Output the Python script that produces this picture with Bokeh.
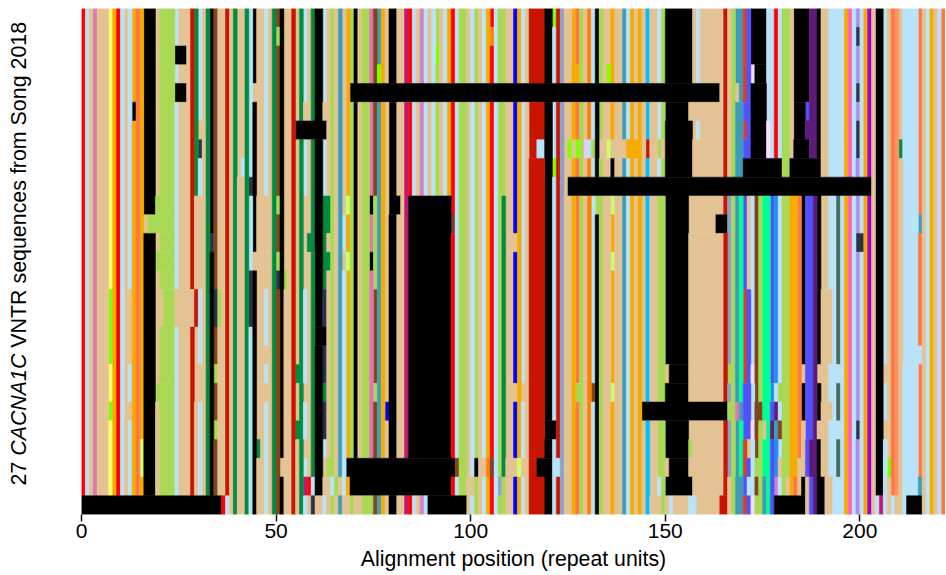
from bokeh.plotting import figure
from bokeh.layouts import row
from bokeh.models import ColumnDataSource, FixedTicker, Label
from bokeh.embed import file_html
from bokeh.resources import INLINE
import math

FONT = "Liberation Sans"
N_ROWS = 27
TICKS = [0, 50, 100, 150, 200]
X_LABEL = "Alignment position (repeat units)"
Y_LABEL = ["27 ", "CACNA1C", "VNTR sequences from Song 2018"]

PALETTE = {
    "r": "#FF0000", "l": "#B9E3F9", "t": "#E3C393", "p": "#DF78AE", "y": "#FFFF66",
    "O": "#F5AB00", "o": "#FF7840", "K": "#000000", "g": "#A9D954", "D": "#C81400",
    "E": "#008C3F", "B": "#7F461B", "T": "#3F9CB8", "W": "#C5176F", "H": "#D67FC8",
    "A": "#80FF00", "N": "#2A324A", "S": "#8CA0C8", "b": "#0000FF", "d": "#FF8000",
    "s": "#00BFFF", "V": "#D43F30", "U": "#5050FF", "Q": "#5E1A78", "M": "#FF60B0",
    "L": "#B088F8", "X": "#A000D0", "F": "#FF9060", "Z": "#00FF90", "C": "#CCFF66",
    "J": "#2090F0", "G": "#466B60", "I": "#FFDDFF", "e": "#F0E0FF", "h": "#F8C0FF",
    "f": "#7F3A30",
}

BASE = ("rltptttyOr" "ltlOoOKKKt" "ggggltttDE" "ltEKBttDtE" "ttElKttltE" "BKttDtEltE"
        "KKltgtTtOg" "KtggpBTOtK" "KttWrltHlt" "lgtlOrlggt" "lgtlOrlggt" "tbOltDDDDK"
        "KlDSttOogt" "dlKgttOttT" "lOtOtsttlg" "KKKKKKKtlt" "tttttDtgTT" "VUKKKKllrl"
        "ggtKKKKQQK" "ttllllOMlL" "lOXtKKltoF" "tllllotlOtlo")

# (first row, last row, first column, last column, residue code)
EDITS_LEFT = [
    (5,5,13,13,"K"), (2,2,24,26,"K"), (4,4,24,26,"K"),
    (11,11,16,16,"t"), (11,11,17,18,"g"),
    (10,11,19,19,"g"), (13,13,19,19,"g"), (20,20,19,19,"g"),
    (15,16,20,20,"t"), (15,16,24,24,"t"), (15,16,28,28,"t"),
    (10,26,29,29,"t"), (15,16,29,29,"D"),
    (6,6,30,30,"t"), (7,7,30,30,"N"), (10,14,30,30,"t"), (19,20,30,30,"t"),
    (12,12,33,33,"N"),
    (15,16,34,34,"N"), (19,19,34,34,"g"), (22,22,34,34,"g"), (15,16,35,35,"g"),
    (8,8,41,41,"l"), (9,9,43,43,"N"), (14,16,43,43,"N"),
    (4,4,44,44,"t"), (13,13,44,44,"t"), (23,23,45,45,"E"),
    (10,14,47,47,"t"), (18,18,47,47,"t"), (20,20,47,47,"t"),
    (1,1,50,50,"g"), (10,10,50,50,"g"), (13,13,50,50,"g"), (14,14,50,50,"N"),
    (24,24,51,51,"t"), (14,14,52,52,"g"),
    (6,6,55,62,"K"), (19,19,55,55,"E"), (22,22,55,55,"E"),
    (5,5,57,57,"t"), (10,14,57,57,"t"), (20,20,57,57,"t"), (23,23,57,57,"t"),
    (25,25,57,57,"W"), (12,12,58,58,"E"), (25,25,58,58,"r"), (25,25,59,59,"l"),
    (26,26,59,59,"N"), (26,26,60,61,"t"),
    (5,5,62,62,"t"), (10,14,62,62,"E"), (15,16,62,62,"N"), (17,17,60,62,"K"),
    (18,19,62,62,"N"), (20,20,62,62,"E"), (21,22,62,62,"N"),
    (23,23,62,62,"l"), (24,25,62,62,"t"),
    (10,11,63,63,"E"), (13,13,63,63,"E"), (24,24,63,63,"g"),
    (25,25,64,64,"l"), (25,25,65,65,"g"), (25,25,66,66,"t"),
    (11,12,67,67,"l"), (14,25,67,67,"l"),
    (10,10,68,68,"C"), (13,13,68,68,"C"), (26,26,68,68,"t"),
    (26,26,70,70,"t"), (26,26,74,74,"g"),
    (10,10,74,74,"K"), (13,13,74,74,"K"),
    (10,14,75,75,"g"), (20,20,75,75,"g"),
    (3,3,76,76,"A"), (21,21,78,78,"b"), (10,10,81,81,"K"),
    (10,23,84,94,"K"), (2,2,91,91,"A"), (1,1,105,105,"d"),
    (15,18,7,7,"A"), (21,21,7,7,"A"),
    (15,18,12,12,"t"), (21,21,12,12,"t"), (23,24,15,15,"C"),
]
EDITS_MIDDLE = [
    (11,11,95,95,"f"), (10,24,108,108,"E"), (25,25,107,107,"S"),
    (12,12,111,111,"t"), (20,20,111,111,"t"), (24,24,111,111,"t"),
    (20,20,113,113,"t"), (24,24,112,112,"C"), (24,24,113,113,"t"),
    (7,7,117,118,"l"), (0,0,121,121,"A"), (8,8,121,121,"A"), (22,22,121,121,"K"),
    (7,7,125,125,"A"), (7,7,126,126,"t"), (7,7,127,127,"A"), (7,7,129,129,"h"),
    (7,7,130,130,"l"), (7,7,131,131,"g"), (7,7,133,134,"t"), (7,7,135,135,"C"),
    (7,7,136,139,"t"), (7,7,140,143,"O"), (7,7,145,145,"D"), (7,7,148,148,"g"),
    (7,7,149,149,"t"), (3,3,127,127,"O"), (3,3,135,135,"A"), (8,8,136,136,"K"),
    (10,10,132,132,"g"), (10,10,136,136,"C"), (13,13,136,136,"C"), (20,20,136,136,"C"),
    (20,20,127,127,"g"), (20,20,131,131,"B"),
    (10,24,148,148,"g"), (26,26,148,148,"t"),
    (19,19,150,150,"t"), (24,24,150,150,"t"), (26,26,150,150,"t"),
    (26,26,151,151,"l"), (26,26,152,155,"t"), (10,25,156,156,"t"),
    (5,5,156,156,"t"), (5,5,158,158,"t"), (7,26,158,158,"t"),
    (23,23,156,156,"g"), (25,25,156,156,"K"), (26,26,156,157,"l"),
    (21,21,144,165,"K"), (11,11,163,165,"K"), (26,26,164,164,"D"),
]
EDITS_RIGHT = [
    (4,4,168,168,"t"), (5,5,170,171,"U"), (7,7,170,171,"U"),
    (3,3,172,172,"e"), (6,7,176,176,"I"), (5,5,186,186,"U"), (6,6,186,186,"Q"),
    (7,7,186,186,"K"), (1,1,199,199,"N"), (4,4,199,199,"N"), (6,7,199,199,"N"),
    (7,7,210,210,"E"),
    (10,24,166,166,"S"), (19,19,166,166,"g"), (21,21,166,166,"g"),
    (21,21,168,168,"p"), (10,24,169,169,"Z"), (21,21,169,169,"T"),
    (10,14,170,170,"U"), (20,22,170,170,"U"), (25,25,170,170,"U"),
    (10,14,171,171,"t"), (23,23,171,171,"t"), (25,25,171,171,"l"),
    (10,25,172,172,"l"), (19,19,172,172,"e"), (22,22,172,172,"e"), (26,26,172,172,"e"),
    (10,23,173,173,"B"), (24,24,173,173,"g"), (25,25,173,173,"B"), (26,26,173,173,"g"),
    (10,26,174,174,"g"), (21,21,174,174,"B"),
    (10,24,175,175,"Z"), (22,22,175,175,"t"), (25,26,175,175,"T"), (10,26,176,176,"Z"),
    (10,26,177,177,"U"), (20,20,177,177,"J"), (22,22,177,177,"Q"),
    (10,25,178,178,"J"), (20,20,178,178,"l"), (21,21,178,178,"Q"), (22,22,178,178,"T"),
    (25,25,178,178,"H"), (20,20,179,179,"g"), (22,22,179,179,"B"), (24,24,179,179,"t"),
    (25,25,181,181,"t"), (10,25,182,182,"O"), (10,24,183,183,"O"), (25,25,183,183,"o"),
    (10,23,184,184,"o"), (24,25,184,184,"t"), (26,26,178,185,"K"),
    (19,19,185,185,"t"), (22,24,185,185,"t"),
    (10,24,186,186,"U"), (25,26,186,186,"t"), (10,26,187,187,"U"), (23,24,187,187,"Q"),
    (19,19,189,189,"t"), (22,22,189,189,"t"), (25,26,190,190,"K"),
    (15,18,192,192,"t"), (21,21,192,192,"t"), (25,26,192,192,"t"),
    (10,18,194,194,"G"), (20,21,194,194,"G"), (23,24,194,194,"G"),
    (22,22,199,199,"N"), (12,12,199,200,"N"),
    (11,11,215,215,"T"), (18,18,215,215,"l"), (25,25,215,215,"T"),
    (19,19,206,206,"t"), (22,22,206,206,"t"), (24,24,207,207,"A"),
    (26,26,204,204,"l"), (26,26,205,205,"W"), (26,26,206,206,"l"), (26,26,207,207,"t"),
    (26,26,208,208,"l"), (26,26,209,209,"t"), (26,26,212,215,"K"),
    # whole-width gaps
    (4,4,69,163,"K"), (9,9,125,202,"K"), (8,8,170,179,"K"), (8,8,182,189,"K"),
    (24,24,68,95,"K"), (24,24,96,96,"B"), (24,24,100,100,"l"), (24,24,101,101,"K"),
    (24,24,103,103,"t"), (24,24,104,104,"d"), (24,24,105,105,"f"),
    (24,24,109,110,"t"), (24,24,117,120,"K"), (24,24,122,122,"l"),
    (25,25,69,94,"K"), (25,25,100,100,"t"),
    (26,26,0,35,"K"), (26,26,36,36,"r"), (26,26,37,37,"l"), (26,26,89,98,"K"),
]

matrix = [list(BASE) for _ in range(N_ROWS)]
for r0, r1, c0, c1, code in EDITS_LEFT + EDITS_MIDDLE + EDITS_RIGHT:
    for r in range(r0, r1 + 1):
        for c in range(c0, c1 + 1):
            matrix[r][c] = code

# Merge cells of one colour into rectangles, so no seams show inside them.
open_runs, rects = {}, []
for r, line in enumerate(matrix + [[None] * len(BASE)]):
    runs = {}
    c = 0
    while c < len(line):
        e = c
        while e + 1 < len(line) and line[e + 1] == line[c]:
            e += 1
        if line[c] is not None:
            key = (c, e + 1, line[c])
            runs[key] = open_runs.pop(key, r)
        c = e + 1
    for (c0, c1, code), r0 in open_runs.items():
        rects.append((c0, c1, r0, r, code))
    open_runs = runs

src = ColumnDataSource(dict(left=[q[0] for q in rects], right=[q[1] for q in rects],
                            top=[q[2] for q in rects], bottom=[q[3] for q in rects],
                            color=[PALETTE[q[4]] for q in rects]))

HEIGHT = 575
LEFT_W = 61
p = figure(width=945 - LEFT_W, height=HEIGHT, x_range=(0, len(BASE)), y_range=(N_ROWS, 0),
           output_backend="svg", toolbar_location=None,
           min_border_left=81 - LEFT_W, min_border_right=0, min_border_top=8, min_border_bottom=61)
p.quad(left="left", right="right", top="top", bottom="bottom", source=src,
       fill_color="color", line_color="color", line_width=0.5)
p.grid.visible = False
p.outline_line_color = None
p.yaxis.visible = False
ax = p.xaxis[0]
ax.ticker = FixedTicker(ticks=TICKS)
ax.axis_line_color = None
ax.minor_tick_line_color = None
ax.major_tick_line_color = "#111111"
ax.major_tick_line_width = 1.5
ax.major_tick_out = 7
ax.major_tick_in = 0
ax.major_label_text_font = FONT
ax.major_label_text_font_size = "21px"
ax.major_label_text_color = "#000000"
ax.major_label_standoff = 2
ax.axis_label = X_LABEL
ax.axis_label_text_font = FONT
ax.axis_label_text_font_size = "21.3px"
ax.axis_label_text_font_style = "normal"
ax.axis_label_text_color = "#000000"
ax.axis_label_standoff = 6

side = figure(width=LEFT_W, height=HEIGHT, x_range=(0, 1), y_range=(0, 1),
              output_backend="svg", toolbar_location=None,
              min_border_left=0, min_border_right=0, min_border_top=0, min_border_bottom=0)
side.axis.visible = False
side.grid.visible = False
side.outline_line_color = None

base_x, base_y = 18, 29
offsets = [0, 29.7, 137.8]
styles = ["normal", "italic", "normal"]
for txt, off, st in zip(Y_LABEL, offsets, styles):
    side.add_layout(Label(x=base_x, y=base_y + off, x_units="screen", y_units="screen", text=txt,
                          angle=math.pi / 2, text_font=FONT, text_font_size="21.4px",
                          text_font_style=st, text_color="#000000",
                          text_baseline="alphabetic", text_align="left"))

page = row(side, p, spacing=0)
open("out.html", "w").write(file_html(page, INLINE))
